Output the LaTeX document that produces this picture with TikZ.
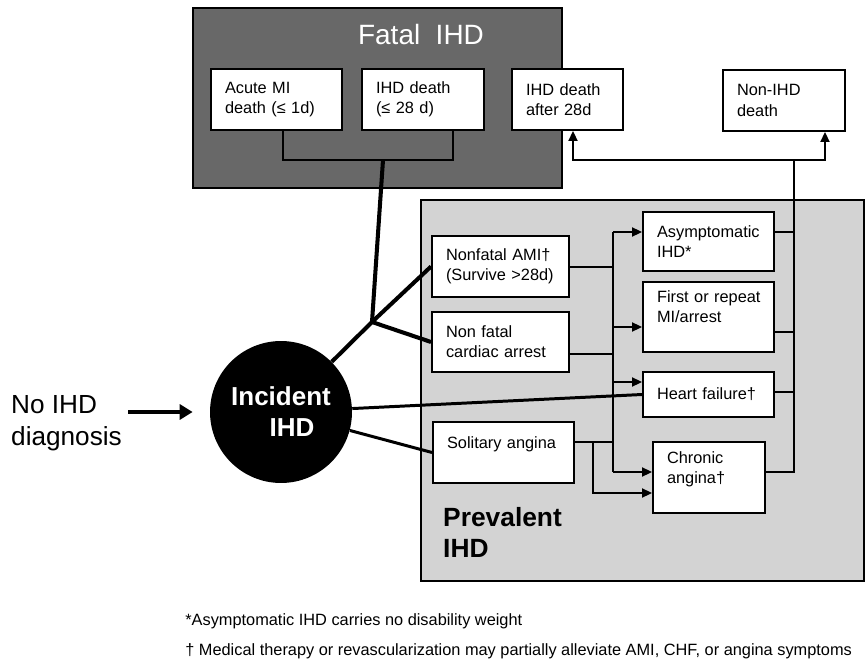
\documentclass[tikz,border=0pt]{standalone}
\usepackage{fontspec}
\setmainfont{Liberation Sans}
\usepackage{tikz}
\usetikzlibrary{arrows.meta, calc}
\definecolor{FatalGray}{HTML}{686868}
\definecolor{PrevGray}{HTML}{D3D3D3}

\begin{document}
\begin{tikzpicture}[
    x=0.02cm, y=-0.02cm,
    box/.style={rectangle, draw, fill=white, line width=1.1pt, align=left, inner xsep=0.28cm, inner ysep=0pt, font={\fontsize{9.3}{11.5}\selectfont}},
    group/.style={rectangle, draw, line width=1.2pt, inner sep=0pt},
    link/.style={line width=1.1pt},
    midlink/.style={line width=1.7pt},
    thicklink/.style={line width=2.3pt},
    arrow/.style={-{Triangle[length=0.2cm, width=0.18cm]}, line width=1.1pt},
    bigarrow/.style={-{Triangle[length=0.26cm, width=0.3cm]}, line width=2.3pt},
    heading/.style={font={\fontsize{15}{17.6}\selectfont\bfseries}, align=left},
    note/.style={anchor=base west, inner sep=0pt, font={\fontsize{9.3}{11}\selectfont}}
]
\useasboundingbox (0,0) rectangle (865,662);

% Group boxes
\node[group, fill=FatalGray, minimum width=7.38cm, minimum height=3.6cm] (fatal) at (377.5,98) {};
\node[white, font={\fontsize{15.9}{18}\selectfont}] (fataltitle) at (421,35) {Fatal\ \ IHD};
\node[group, fill=PrevGray, minimum width=8.86cm, minimum height=7.62cm] (prevalent) at (642.5,390.5) {};
\node[heading, anchor=west] (prevtitle) at (437,532) {Prevalent\\IHD};

% Deaths
\node[box, text width=2.06cm, minimum height=1.22cm] (acute) at (276.5,99.5) {Acute MI\\death (≤ 1d)};
\node[box, text width=1.88cm, minimum height=1.22cm] (ihd28) at (423,99.5) {IHD death\\(≤ 28 d)};
\node[box, text width=1.66cm, minimum height=1.22cm] (after28) at (567.5,99.5) {IHD death\\after 28d};
\node[box, text width=1.88cm, minimum height=1.22cm] (nonihd) at (784,100.5) {Non-IHD\\death};

% Incident IHD
\node[circle, fill=black, minimum size=2.84cm, inner sep=0pt, text=white, align=center, font={\fontsize{14.8}{17.6}\selectfont\bfseries}] (incident) at (281,412) {Incident\\\hspace*{0.44cm}IHD};
\node[anchor=west, align=left, font={\fontsize{14.9}{18.2}\selectfont}] (noihd) at (5,423) {No IHD\\diagnosis};

% Prevalent states
\node[box, text width=2.18cm, minimum height=1.22cm] (nfami) at (500.5,266.5) {Nonfatal AMI†\\(Survive >28d)};
\node[box, text width=2.18cm, minimum height=1.2cm] (arrest) at (500.5,342) {Non fatal\\cardiac arrest};
\node[box, text width=2.26cm, minimum height=1.22cm] (solitary) at (503.5,452.5) {Solitary angina\\\mbox{}};
\node[box, text width=2.06cm, minimum height=1.18cm] (asympt) at (708.5,241.5) {Asymptomatic\\IHD*};
\node[box, text width=2.06cm, minimum height=1.4cm] (firstmi) at (708.5,317) {\mbox{First or repeat}\\MI/arrest\\\mbox{}};
\node[box, text width=2.06cm, minimum height=0.9cm] (hf) at (708.5,394.5) {Heart failure†};
\node[box, text width=1.68cm, minimum height=1.42cm] (chronic) at (709,477.5) {Chronic\\angina†\\\mbox{}};

% Junctions
\coordinate (fjoin) at (383,160);
\coordinate (split) at (372,322);
\coordinate (bus) at (613,232);
\coordinate (solsplit) at (593,442);
\coordinate (deathbus) at (794,160);

% Fatal bracket and branches from incident
\draw[link] ($(acute.south)+(6.5,0)$) |- (fjoin) -| ($(ihd28.south)+(30,0)$);
\draw[thicklink] (fjoin) -- (split);
\draw[thicklink] (incident) -- (split);
\draw[thicklink] (split) -- (nfami.west);
\draw[thicklink] (split) -- (arrest.west);
\draw[midlink] (incident) -- (hf.west);
\draw[midlink] (incident) -- (solitary.west);
\draw[bigarrow, shorten >=0.34cm] (noihd.east |- incident.west) -- (incident.west);

% Into prevalent states
\draw[link] ([yshift=-0.01cm]nfami.east) -- ([yshift=-0.01cm]nfami.east -| bus);
\draw[link] ([yshift=-0.24cm]arrest.east) -- ([yshift=-0.24cm]arrest.east -| bus);
\draw[link] (bus) -- ([yshift=0.11cm]chronic.west -| bus);
\draw[arrow] (bus) -- (bus -| asympt.west);
\draw[arrow] ([yshift=-0.2cm]firstmi.west -| bus) -- ([yshift=-0.2cm]firstmi.west);
\draw[arrow] ([yshift=0.25cm]hf.west -| bus) -- ([yshift=0.25cm]hf.west);
\draw[arrow] ([yshift=0.11cm]chronic.west -| bus) -- ([yshift=0.11cm]chronic.west);
\draw[link] ([yshift=0.21cm]solitary.east) -- ([yshift=0.21cm]solitary.east -| bus);
\draw[arrow] (solsplit) |- ([yshift=-0.31cm]chronic.west);

% Out to deaths
\draw[link] ([yshift=0.19cm]asympt.east) -- ([yshift=0.19cm]asympt.east -| deathbus);
\draw[link] ([yshift=-0.3cm]firstmi.east) -- ([yshift=-0.3cm]firstmi.east -| deathbus);
\draw[link] ([yshift=0.05cm]hf.east) -- ([yshift=0.05cm]hf.east -| deathbus);
\draw[link] ([yshift=0.11cm]chronic.east) -| (deathbus);
\draw[arrow] (deathbus) -| ([xshift=0.11cm]after28.south);
\draw[arrow] (deathbus) -| ([xshift=0.82cm]nonihd.south);

% Footnotes
\node[note] (note1) at (185,625) {*Asymptomatic IHD carries no disability weight};
\node[note] (note2) at (185,655) {† Medical therapy or revascularization may partially alleviate AMI, CHF, or angina symptoms};
\end{tikzpicture}
\end{document}
